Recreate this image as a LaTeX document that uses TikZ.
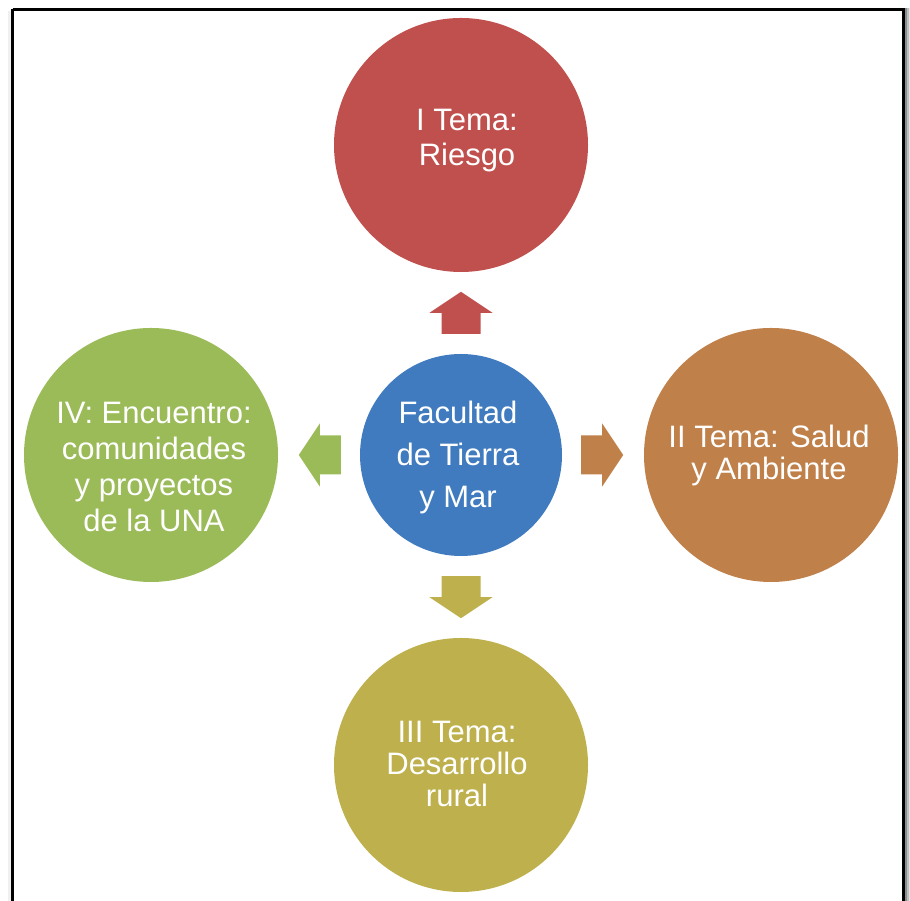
\documentclass[tikz,border=0pt]{standalone}
\usepackage{fontspec}
\setmainfont{Liberation Sans}
\usetikzlibrary{calc}

\definecolor{riesgo}{RGB}{192,80,77}
\definecolor{salud}{RGB}{191,128,74}
\definecolor{rural}{RGB}{190,176,76}
\definecolor{encuentro}{RGB}{155,187,89}
\definecolor{hubblue}{RGB}{63,123,190}

\tikzset{
  topic/.style={circle, fill=#1, minimum size=254pt, inner sep=0pt},
  hub/.style={circle, fill=hubblue, minimum size=202pt, inner sep=0pt},
  caption/.style={text=white, align=center, inner sep=0pt,
    font=\fontsize{31}{#1}\selectfont},
  frame/.style={draw=black, line width=3pt},
  pics/blockarrow/.style={code={
    \fill[#1] (0,-19.5) -- (21,-19.5) -- (21,-31.5) -- (42,0)
      -- (21,31.5) -- (21,19.5) -- (0,19.5) -- cycle;}}
}

\begin{document}
\begin{tikzpicture}[x=1pt,y=1pt]
\useasboundingbox (0,0) rectangle (910,901);

% soft shadow of the frame
\fill[black, opacity=0.45] (904.5,893) rectangle (906.5,-6);
\fill[black, opacity=0.25] (906.5,893) rectangle (908.5,-6);
\fill[black, opacity=0.10] (908.5,893) rectangle (910,-6);
\fill[black, opacity=0.06] (8,890) rectangle (11,-6);

% frame
\draw[frame] (12.5,891.7) -- (903,891.7) -- (903,-6) (12.5,-6) -- (12.5,891.7);

% circles
\node[hub] (hub) at (461,446) {};
\node[topic=riesgo] (riesgo) at (461,756) {};
\node[topic=salud] (salud) at (771,446) {};
\node[topic=rural] (rural) at (461,136) {};
\node[topic=encuentro] (encuentro) at (151,446) {};

% captions
\node[caption=42] (hub-t) at ($(hub)+(-3,-2)$) {Facultad\\de Tierra\\y Mar};
\node[caption=35] (riesgo-t) at ($(riesgo)+(6,4.3)$) {I Tema:\\Riesgo};
\node[caption=32] (salud-t) at ($(salud)+(-2,0)$) {II Tema: Salud\\y Ambiente};
\node[caption=32] (rural-t) at ($(rural)+(-4,1)$) {III Tema:\\Desarrollo\\rural};
\node[caption=36] (encuentro-t) at ($(encuentro)+(3,-12.4)$)
  {IV: Encuentro:\\comunidades\\y proyectos\\de la UNA};

% block arrows from the hub towards each topic
\pic[rotate=90] at ($(hub.north)+(0,20)$) {blockarrow=riesgo};
\pic[rotate=0] at ($(hub.east)+(19,0)$) {blockarrow=salud};
\pic[rotate=-90] at ($(hub.south)+(0,-20)$) {blockarrow=rural};
\pic[rotate=180] at ($(hub.west)+(-19,0)$) {blockarrow=encuentro};
\end{tikzpicture}
\end{document}
